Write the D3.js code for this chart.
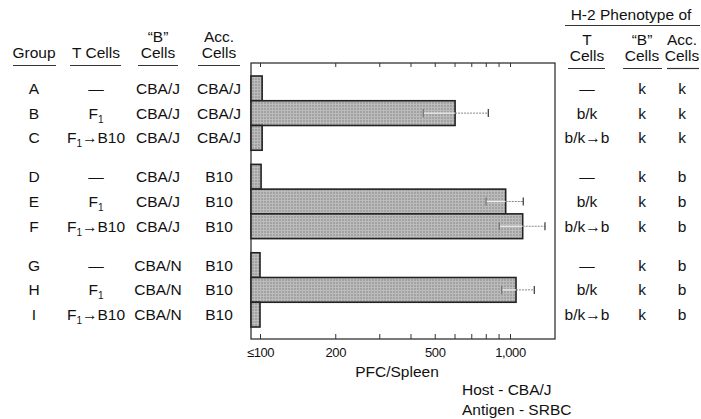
<!DOCTYPE html>
<html>
<head>
<meta charset="utf-8">
<script src="https://cdn.jsdelivr.net/npm/d3@7"></script>
<style>
  body { margin: 0; background: #fff; }
  text { font-family: "Liberation Sans", Arial, sans-serif; fill: #111; }
</style>
</head>
<body>
<script>
// table columns (left side)
var groups   = ["A", "B", "C", "D", "E", "F", "G", "H", "I"];
var blocks   = [0, 0, 0, 1, 1, 1, 2, 2, 2];
var tCells   = ["—", "F1", "F1→B10", "—", "F1", "F1→B10", "—", "F1", "F1→B10"];
var bCells   = ["CBA/J", "CBA/J", "CBA/J", "CBA/J", "CBA/J", "CBA/J", "CBA/N", "CBA/N", "CBA/N"];
var accCells = ["CBA/J", "CBA/J", "CBA/J", "B10", "B10", "B10", "B10", "B10", "B10"];

// PFC per spleen, with error range (null = none)
var pfc     = [102, 603, 102, 101, 961, 1124, 100, 1057, 100];
var errLow  = [null, 450, null, null, 802, 906, null, 926, null];
var errHigh = [null, 819, null, null, 1130, 1380, null, 1251, null];

var tickValues = [100, 200, 300, 400, 500, 600, 700, 800, 900, 1000];
var tickLabels = {100: "≤100", 200: "200", 500: "500", 1000: "1,000"};

// H-2 phenotype columns (right side)
var phenoT   = ["—", "b/k", "b/k→b", "—", "b/k", "b/k→b", "—", "b/k", "b/k→b"];
var phenoB   = ["k", "k", "k", "k", "k", "k", "k", "k", "k"];
var phenoAcc = ["k", "k", "k", "b", "b", "b", "b", "b", "b"];

var width = 701, height = 419;
var frame = {left: 251, right: 555, top: 63, bottom: 339};

var svg = d3.select("body").append("svg")
    .attr("width", width)
    .attr("height", height);

var defs = svg.append("defs");
var pat = defs.append("pattern")
    .attr("id", "stipple")
    .attr("width", 3).attr("height", 3)
    .attr("patternUnits", "userSpaceOnUse");
pat.append("rect").attr("width", 3).attr("height", 3).attr("fill", "#bcbcbc");
pat.append("circle").attr("cx", 1).attr("cy", 1).attr("r", 0.75).attr("fill", "#7c7c7c");

// scales
var xScale = d3.scaleLog().domain([100, 1000]).range([260, 510]);
var blockScale = d3.scaleBand().domain([0, 1, 2]).range([76, 327]).paddingInner(0.16);
var rowScale = d3.scaleBand().domain([0, 1, 2]).range([0, blockScale.bandwidth()]);

function rowY(i) { return blockScale(blocks[i]) + rowScale(i % 3); }
function rowMid(i) { return rowY(i) + rowScale.bandwidth() / 2; }

// text with F1 subscript
function cellText(sel, s) {
    if (s.indexOf("F1") === 0) {
        sel.append("tspan").text("F");
        sel.append("tspan").text("1").attr("font-size", "10px").attr("dy", 4);
        sel.append("tspan").text(s.slice(2)).attr("dy", -4);
    } else {
        sel.text(s);
    }
}

// left table headers
var leftCols = [
    {x: 34, l1: "", l2: "Group", u: [13, 56]},
    {x: 96, l1: "", l2: "T Cells", u: [70, 121]},
    {x: 158, l1: "“B”", l2: "Cells", u: [138, 178]},
    {x: 219, l1: "Acc.", l2: "Cells", u: [198, 240]}
];
var hdr = svg.append("g").attr("font-size", "15.5px").attr("text-anchor", "middle");
leftCols.forEach(function(c) {
    hdr.append("text").attr("x", c.x).attr("y", 42).text(c.l1);
    hdr.append("text").attr("x", c.x).attr("y", 58).text(c.l2);
    hdr.append("line").attr("x1", c.u[0]).attr("x2", c.u[1])
        .attr("y1", 65.5).attr("y2", 65.5).attr("stroke", "#333").attr("stroke-width", 1.2);
});

// left table body
var body = svg.append("g").attr("font-size", "15.5px").attr("text-anchor", "middle");
[groups, tCells, bCells, accCells].forEach(function(col, ci) {
    body.selectAll(".c" + ci)
        .data(col)
        .enter()
        .append("text")
        .attr("x", leftCols[ci].x)
        .attr("y", function(d, i) { return rowMid(i) + 5.5; })
        .each(function(d) { cellText(d3.select(this), d); });
});

// frame
svg.append("rect")
    .attr("x", frame.left).attr("y", frame.top)
    .attr("width", frame.right - frame.left).attr("height", frame.bottom - frame.top)
    .attr("fill", "none").attr("stroke", "#333").attr("stroke-width", 1.3);

// axes
svg.append("g")
    .attr("transform", "translate(0," + frame.top + ")")
    .call(d3.axisBottom(xScale).tickValues(tickValues).tickSize(4).tickFormat(""))
    .call(function(g) { g.select(".domain").remove(); g.selectAll("line").attr("stroke", "#333"); });

svg.append("g")
    .attr("transform", "translate(0," + frame.bottom + ")")
    .call(d3.axisBottom(xScale).tickValues(tickValues).tickSizeInner(-5).tickSizeOuter(0)
        .tickPadding(9)
        .tickFormat(function(d) { return tickLabels[d] || ""; }))
    .call(function(g) {
        g.select(".domain").remove();
        g.selectAll("line").attr("stroke", "#333");
        g.selectAll("text").attr("font-size", "13px").attr("letter-spacing", "-0.4px")
            .attr("font-family", "Liberation Sans, Arial, sans-serif").attr("fill", "#111");
    });

svg.append("text")
    .attr("x", 397).attr("y", 377)
    .attr("text-anchor", "middle").attr("font-size", "15.5px")
    .text("PFC/Spleen");

// bars
svg.append("g").selectAll("rect")
    .data(pfc)
    .enter()
    .append("rect")
    .attr("x", frame.left)
    .attr("y", function(d, i) { return rowY(i); })
    .attr("width", function(d) { return xScale(d) - frame.left; })
    .attr("height", rowScale.bandwidth())
    .attr("fill", "url(#stipple)")
    .attr("stroke", "#222")
    .attr("stroke-width", 1.6);

// error bars
var eb = svg.append("g");
pfc.forEach(function(v, i) {
    if (errLow[i] == null) return;
    var y = rowMid(i), x0 = xScale(errLow[i]), x1 = xScale(errHigh[i]), xe = xScale(v);
    eb.append("line").attr("x1", x0).attr("x2", xe).attr("y1", y).attr("y2", y)
        .attr("stroke", "#eeeeee").attr("stroke-width", 1.2);
    eb.append("line").attr("x1", xe).attr("x2", x1).attr("y1", y).attr("y2", y)
        .attr("stroke", "#888").attr("stroke-width", 1).attr("stroke-dasharray", "2,1");
    [x0, x1].forEach(function(x, k) {
        eb.append("line").attr("x1", x).attr("x2", x).attr("y1", y - 4).attr("y2", y + 4)
            .attr("stroke", k ? "#444" : "#777").attr("stroke-width", 1.3);
    });
});

// right table
var rt = svg.append("g").attr("font-size", "15.5px").attr("text-anchor", "middle");
rt.append("text").attr("x", 631).attr("y", 20).text("H-2 Phenotype of");
rt.append("line").attr("x1", 565).attr("x2", 700).attr("y1", 25.5).attr("y2", 25.5)
    .attr("stroke", "#333").attr("stroke-width", 1.2);

var rightCols = [
    {x: 587, l1: "T", l2: "Cells", u: [568, 605], data: phenoT},
    {x: 642, l1: "“B”", l2: "Cells", u: [623, 662], data: phenoB},
    {x: 682, l1: "Acc.", l2: "Cells", u: [667, 699], data: phenoAcc}
];
rightCols.forEach(function(c) {
    rt.append("text").attr("x", c.x).attr("y", 45).text(c.l1);
    rt.append("text").attr("x", c.x).attr("y", 61).text(c.l2);
    rt.append("line").attr("x1", c.u[0]).attr("x2", c.u[1])
        .attr("y1", 68.5).attr("y2", 68.5).attr("stroke", "#333").attr("stroke-width", 1.2);
    rt.selectAll(null)
        .data(c.data)
        .enter()
        .append("text")
        .attr("x", c.x)
        .attr("y", function(d, i) { return rowMid(i) + 5.5; })
        .text(function(d) { return d; });
});

// notes
var notes = svg.append("g").attr("font-size", "15.5px");
notes.append("text").attr("x", 462).attr("y", 395).text("Host - CBA/J");
notes.append("text").attr("x", 462).attr("y", 415).text("Antigen - SRBC");
</script>
</body>
</html>
